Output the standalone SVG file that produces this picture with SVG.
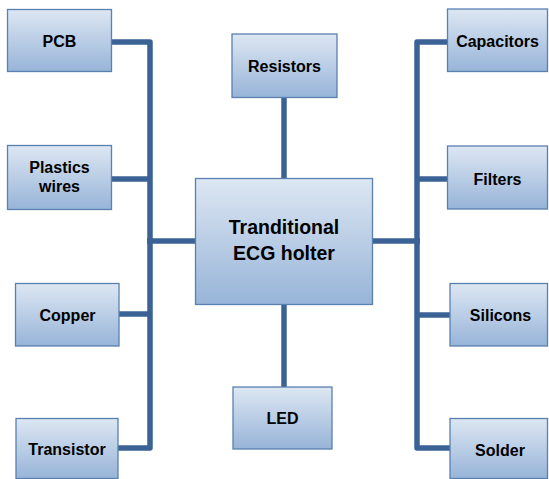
<svg xmlns="http://www.w3.org/2000/svg" width="549" height="479" viewBox="0 0 549 479">
<defs>
<linearGradient id="g" x1="0" y1="0" x2="0" y2="1">
<stop offset="0" stop-color="#DDE7F3"/>
<stop offset="1" stop-color="#97B4D8"/>
</linearGradient>
</defs>
<style>
.box{fill:url(#g);stroke:#5A80B0;stroke-width:1.3}
.t{font-family:"Liberation Sans",Arial,sans-serif;font-weight:bold;font-size:16px;fill:#000;text-anchor:middle}
.big{font-size:19.5px}
.c{fill:none;stroke:#3B6294;stroke-width:5.5;stroke-linejoin:round;stroke-linecap:butt}
</style>
<rect width="549" height="479" fill="#fff"/>
<g id="connectors">
<path class="c" d="M111 42 H150 V448 H118"/>
<path class="c" d="M112 179 H150"/>
<path class="c" d="M119 314 H150"/>
<path class="c" d="M147 241 H195"/>
<path class="c" d="M447.5 42 H417 V448 H450"/>
<path class="c" d="M447.5 179 H417"/>
<path class="c" d="M450 315 H417"/>
<path class="c" d="M373 241 H420"/>
<path class="c" d="M284 97 V178"/>
<path class="c" d="M284 304 V387"/>
</g>
<g id="center"><rect class="box" x="195.5" y="178.5" width="177" height="126"/><text class="t big" x="284" y="234">Tranditional</text><text class="t big" x="284" y="260">ECG holter</text></g>
<g id="pcb"><rect class="box" x="7.5" y="9.5" width="104" height="62"/><text class="t" x="59.5" y="46.5">PCB</text></g>
<g id="plastics"><rect class="box" x="7.5" y="145.5" width="104" height="64"/><text class="t" x="59.5" y="173">Plastics</text><text class="t" x="59.5" y="192">wires</text></g>
<g id="copper"><rect class="box" x="15.5" y="283.5" width="103.5" height="62.5"/><text class="t" x="67.5" y="320.5">Copper</text></g>
<g id="transistor"><rect class="box" x="16" y="418.5" width="102" height="60"/><text class="t" x="67" y="455">Transistor</text></g>
<g id="resistors"><rect class="box" x="232" y="34" width="105" height="63.5"/><text class="t" x="284.5" y="72">Resistors</text></g>
<g id="led"><rect class="box" x="233" y="387" width="99" height="62"/><text class="t" x="282.5" y="424">LED</text></g>
<g id="capacitors"><rect class="box" x="447.5" y="9" width="100" height="62.5"/><text class="t" x="497.5" y="46.5">Capacitors</text></g>
<g id="filters"><rect class="box" x="447.5" y="146" width="100" height="63"/><text class="t" x="497.5" y="184.5">Filters</text></g>
<g id="silicons"><rect class="box" x="450" y="283.5" width="97.5" height="62.5"/><text class="t" x="500.5" y="320.5">Silicons</text></g>
<g id="solder"><rect class="box" x="450" y="418.5" width="97.5" height="60"/><text class="t" x="500" y="456">Solder</text></g>
</svg>
